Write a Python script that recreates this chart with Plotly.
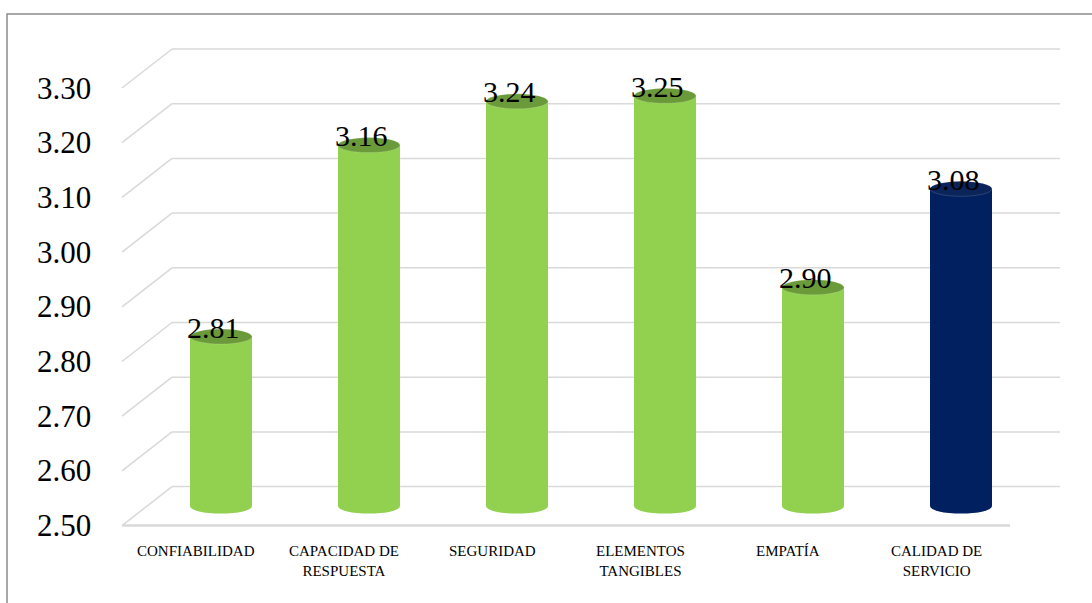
import plotly.graph_objects as go

# ---- data ----
categories = ["CONFIABILIDAD", "CAPACIDAD DE<br>RESPUESTA", "SEGURIDAD",
              "ELEMENTOS<br>TANGIBLES", "EMPATÍA", "CALIDAD DE<br>SERVICIO"]
values = [2.81, 3.16, 3.24, 3.25, 2.90, 3.08]
bar_colors = ["#92D050", "#92D050", "#92D050", "#92D050", "#92D050", "#002060"]
top_colors = ["#6B9A3A", "#6B9A3A", "#6B9A3A", "#6B9A3A", "#6B9A3A", "#0B245A"]
tick_values = [2.50, 2.60, 2.70, 2.80, 2.90, 3.00, 3.10, 3.20, 3.30]
tick_labels = ["2.50", "2.60", "2.70", "2.80", "2.90", "3.00", "3.10", "3.20", "3.30"]

W, H = 1092, 603
y_min = 2.50
# pseudo-3D depth (style constants)
dx = 25 / 148.0      # horizontal half-depth in category units
dy = 19.5 / 547.0    # vertical half-depth in value units
bar_w = 62 / 148.0
ell = 7.5 / 547.0    # ellipse half-height in value units

FONT = "Liberation Serif"
GRID = "#D9D9D9"

idx = list(range(len(categories)))

fig = go.Figure()
fig.add_trace(go.Bar(
    x=idx, y=[v - y_min for v in values], base=y_min,
    width=bar_w, marker=dict(color=bar_colors, line=dict(width=0)),
    hoverinfo="skip", showlegend=False,
))

shapes = []
# back wall gridlines and left wall diagonals
for v in tick_values:
    shapes.append(dict(type="line", xref="x", yref="y",
                       x0=-0.5 + dx, x1=len(categories) - 0.5 + dx, y0=v + dy, y1=v + dy,
                       line=dict(color=GRID, width=1.5), layer="below"))
    shapes.append(dict(type="line", xref="x", yref="y",
                       x0=-0.5 - dx, x1=-0.5 + dx, y0=v - dy, y1=v + dy,
                       line=dict(color=GRID, width=1.5), layer="below"))
# floor front edge
shapes.append(dict(type="line", xref="x", yref="y",
                   x0=-0.5 - dx, x1=len(categories) - 0.5 - dx, y0=y_min - dy, y1=y_min - dy,
                   line=dict(color=GRID, width=2.5), layer="below"))

# cylinder bottoms and tops
for i, v in enumerate(values):
    shapes.append(dict(type="circle", xref="x", yref="y",
                       x0=i - bar_w / 2, x1=i + bar_w / 2, y0=y_min - ell, y1=y_min + ell,
                       fillcolor=bar_colors[i], line=dict(width=0), layer="above"))
    shapes.append(dict(type="circle", xref="x", yref="y",
                       x0=i - bar_w / 2, x1=i + bar_w / 2, y0=v - ell, y1=v + ell,
                       fillcolor=top_colors[i], line=dict(width=0.6, color="rgba(255,255,255,0.25)"),
                       layer="above"))

# outer border
shapes.append(dict(type="rect", xref="paper", yref="paper",
                   x0=7 / W, x1=1.02, y0=-0.02, y1=1 - 14 / H,
                   line=dict(color="#8C8C8C", width=1.5), layer="above"))

annotations = []
for v, t in zip(tick_values, tick_labels):
    annotations.append(dict(xref="paper", yref="y", x=93 / W, y=v - dy, text=t,
                            xanchor="right", yanchor="middle", showarrow=False,
                            font=dict(family=FONT, size=31, color="#000000")))
for i, c in enumerate(categories):
    annotations.append(dict(xref="x", yref="paper", x=i - dx, y=1 - 541 / H, text=c,
                            xanchor="center", yanchor="top", showarrow=False,
                            font=dict(family=FONT, size=15, color="#000000")))
for i, v in enumerate(values):
    annotations.append(dict(xref="x", yref="y", x=i, y=v, text=f"{v:.2f}",
                            xanchor="center", yanchor="bottom", xshift=-8, yshift=-9,
                            showarrow=False,
                            font=dict(family=FONT, size=30, color="#000000")))

# axis ranges so that the mid-depth plane maps 3.30 -> 68.5px, 2.50 -> 506.5px
px_per_cat = 148.0
x_left = -0.5 - 147 / px_per_cat
x_right = -0.5 + (W - 147) / px_per_cat
px_per_val = 547.0
y_top = 3.30 + 68.5 / px_per_val
y_bot = 3.30 - (H - 68.5) / px_per_val

fig.update_layout(
    width=W, height=H,
    margin=dict(l=0, r=0, t=0, b=0),
    paper_bgcolor="white", plot_bgcolor="white",
    font=dict(family=FONT),
    xaxis=dict(range=[x_left, x_right], visible=False, fixedrange=True),
    yaxis=dict(range=[y_bot, y_top], visible=False, fixedrange=True),
    shapes=shapes, annotations=annotations,
    showlegend=False,
)

fig.write_html("out.html", config={"displayModeBar": False})
